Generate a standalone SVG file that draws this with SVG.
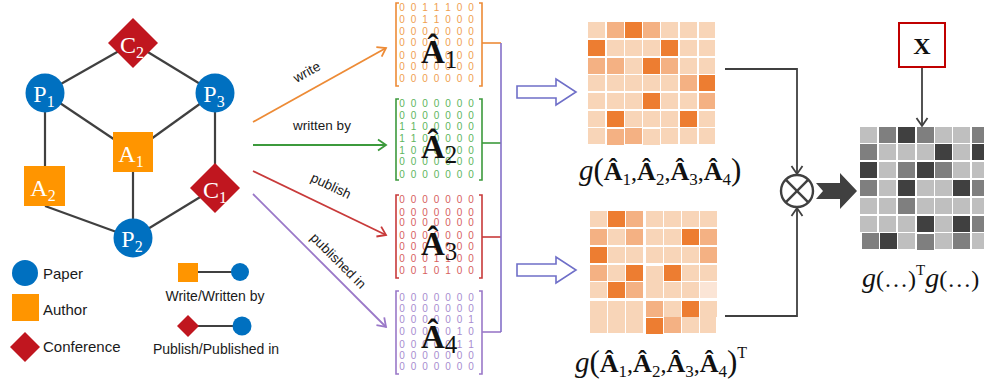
<svg xmlns="http://www.w3.org/2000/svg" width="984" height="388" viewBox="0 0 984 388">
  <style>
    .edge { stroke: #404040; stroke-width: 2.2; fill: none; }
    .paper { fill: #0070C0; }
    .author { fill: #FF9500; }
    .conf { fill: #C0161F; }
    .nlab { font-family: "Liberation Serif", "DejaVu Serif", serif; fill: #ffffff; font-size: 24px; text-anchor: middle; }
    .nsub { font-size: 16px; }
    .leg { font-family: "Liberation Sans", Arial, sans-serif; font-size: 15px; fill: #1a1a1a; }
    .leg2 { font-family: "Liberation Sans", Arial, sans-serif; font-size: 14px; fill: #1a1a1a; text-anchor: middle; }
    .elab { font-family: "Liberation Sans", Arial, sans-serif; font-size: 13.5px; fill: #1a1a1a; text-anchor: middle; }
    .dig { font-family: "Liberation Sans", Arial, sans-serif; font-size: 10px; text-anchor: middle; }
    .big { font-family: "Liberation Serif", "DejaVu Serif", serif; font-weight: bold; font-size: 33px; fill: #111; }
    .bigsub { font-weight: normal; font-size: 25px; }
    .math { font-family: "Liberation Serif", "DejaVu Serif", serif; font-size: 24px; fill: #111; }
    .hb { font-weight: bold; font-size: 26px; }
    .ms { font-size: 17px; }
    .l { fill: #F8D5B8; }
    .m { fill: #F4B183; }
    .d { fill: #ED7D31; }
    .gl { fill: #BFBFBF; }
    .gm { fill: #7F7F7F; }
    .gd { fill: #404040; }
    .hollow { fill: #ffffff; stroke: #6F6FC8; stroke-width: 1.6; }
  </style>
  <defs>
    <marker id="hOrange" markerUnits="userSpaceOnUse" markerWidth="16" markerHeight="16" refX="0" refY="0" viewBox="-10 -8 12 16" orient="auto">
      <path d="M -8 -5.5 L 0 0 L -8 5.5" fill="none" stroke="#ED8B36" stroke-width="1.8"/>
    </marker>
    <marker id="hGreen" markerUnits="userSpaceOnUse" markerWidth="16" markerHeight="16" refX="0" refY="0" viewBox="-10 -8 12 16" orient="auto">
      <path d="M -8 -5.5 L 0 0 L -8 5.5" fill="none" stroke="#3C9A3C" stroke-width="1.8"/>
    </marker>
    <marker id="hRed" markerUnits="userSpaceOnUse" markerWidth="16" markerHeight="16" refX="0" refY="0" viewBox="-10 -8 12 16" orient="auto">
      <path d="M -8 -5.5 L 0 0 L -8 5.5" fill="none" stroke="#C83A3A" stroke-width="1.8"/>
    </marker>
    <marker id="hPurple" markerUnits="userSpaceOnUse" markerWidth="16" markerHeight="16" refX="0" refY="0" viewBox="-10 -8 12 16" orient="auto">
      <path d="M -8 -5.5 L 0 0 L -8 5.5" fill="none" stroke="#9A78C8" stroke-width="1.8"/>
    </marker>
    <marker id="hGray" markerUnits="userSpaceOnUse" markerWidth="16" markerHeight="16" refX="0" refY="0" viewBox="-10 -8 12 16" orient="auto">
      <path d="M -8 -5.5 L 0 0 L -8 5.5" fill="none" stroke="#404040" stroke-width="1.8"/>
    </marker>
  </defs>
  <rect width="984" height="388" fill="#ffffff"/>

  <!-- graph edges -->
  <g id="graph-edges">
    <line class="edge" x1="133" y1="43" x2="45" y2="93"/>
    <line class="edge" x1="133" y1="43" x2="215" y2="93"/>
    <line class="edge" x1="45" y1="93" x2="133" y2="152"/>
    <line class="edge" x1="215" y1="93" x2="133" y2="152"/>
    <line class="edge" x1="45" y1="93" x2="45" y2="186"/>
    <line class="edge" x1="45" y1="206" x2="133" y2="238"/>
    <line class="edge" x1="133" y1="152" x2="133" y2="238"/>
    <line class="edge" x1="215" y1="93" x2="215" y2="188"/>
    <line class="edge" x1="215" y1="188" x2="133" y2="238"/>
  </g>

  <!-- graph nodes -->
  <g id="node-C2">
    <polygon class="conf" points="133,18 158,43 133,68 108,43"/>
    <text class="nlab" x="132" y="53">C<tspan class="nsub" dy="5">2</tspan></text>
  </g>
  <g id="node-P1">
    <circle class="paper" cx="45" cy="93" r="19.5"/>
    <text class="nlab" x="44" y="102">P<tspan class="nsub" dy="5">1</tspan></text>
  </g>
  <g id="node-P3">
    <circle class="paper" cx="215" cy="93" r="19.5"/>
    <text class="nlab" x="214" y="102">P<tspan class="nsub" dy="5">3</tspan></text>
  </g>
  <g id="node-A1">
    <rect class="author" x="113" y="132" width="40" height="40"/>
    <text class="nlab" x="131" y="162">A<tspan class="nsub" dy="5">1</tspan></text>
  </g>
  <g id="node-A2">
    <rect class="author" x="24" y="166" width="41" height="40"/>
    <text class="nlab" x="43" y="196">A<tspan class="nsub" dy="5">2</tspan></text>
  </g>
  <g id="node-C1">
    <polygon class="conf" points="215,163 240,188 215,213 190,188"/>
    <text class="nlab" x="215" y="198">C<tspan class="nsub" dy="5">1</tspan></text>
  </g>
  <g id="node-P2">
    <circle class="paper" cx="133" cy="238" r="19.5"/>
    <text class="nlab" x="132" y="247">P<tspan class="nsub" dy="5">2</tspan></text>
  </g>

  <!-- legend -->
  <g id="legend">
    <circle class="paper" cx="25" cy="273" r="13"/>
    <text class="leg" x="43" y="279">Paper</text>
    <rect class="author" x="12" y="294" width="27" height="27"/>
    <text class="leg" x="43" y="315">Author</text>
    <polygon class="conf" points="25,332 40,347 25,362 10,347"/>
    <text class="leg" x="43" y="352">Conference</text>

    <line class="edge" x1="198" y1="272" x2="236" y2="272" stroke-width="1.6"/>
    <rect class="author" x="178" y="263" width="20" height="19"/>
    <circle class="paper" cx="240" cy="272" r="9"/>
    <text class="leg2" x="215" y="301">Write/Written by</text>

    <line class="edge" x1="194" y1="326" x2="236" y2="326" stroke-width="1.6"/>
    <polygon class="conf" points="188,315 199,326 188,337 177,326"/>
    <circle class="paper" cx="242" cy="326" r="9.5"/>
    <text class="leg2" x="216" y="354">Publish/Published  in</text>
  </g>

  <!-- relation arrows -->
  <g id="relation-arrows">
    <line x1="253" y1="122" x2="386" y2="48" stroke="#ED8B36" stroke-width="1.8" marker-end="url(#hOrange)"/>
    <line x1="253" y1="145" x2="386" y2="145" stroke="#3C9A3C" stroke-width="1.8" marker-end="url(#hGreen)"/>
    <line x1="253" y1="171" x2="386" y2="235" stroke="#C83A3A" stroke-width="1.8" marker-end="url(#hRed)"/>
    <line x1="253" y1="194" x2="386" y2="327" stroke="#9A78C8" stroke-width="1.8" marker-end="url(#hPurple)"/>
    <text class="elab" transform="translate(309,76) rotate(-29)">write</text>
    <text class="elab" x="322" y="130">written by</text>
    <text class="elab" transform="translate(329,190) rotate(25.7)">publish</text>
    <text class="elab" transform="translate(335,264) rotate(45)">published in</text>
  </g>

  <!-- adjacency matrices -->
  <g id="matrix-A1" fill="#F0A050">
    <path d="M 399 3 H 396 V 86 H 399 M 479 3 H 482 V 86 H 479" fill="none" stroke="#ED8B36" stroke-width="1.6"/>
    <text class="dig" x="402 413.5 425 436.5 448 459.5 471" y="11">0011100</text>
    <text class="dig" x="402 413.5 425 436.5 448 459.5 471" y="23">0011000</text>
    <text class="dig" x="402 413.5 425 436.5 448 459.5 471" y="35">0000000</text>
    <text class="dig" x="402 413.5 425 436.5 448 459.5 471" y="46">0000000</text>
    <text class="dig" x="402 413.5 425 436.5 448 459.5 471" y="59">0000000</text>
    <text class="dig" x="402 413.5 425 436.5 448 459.5 471" y="70">0000000</text>
    <text class="dig" x="402 413.5 425 436.5 448 459.5 471" y="82">0000000</text>
    <text class="big" x="421" y="63">Â<tspan class="bigsub" dy="5">1</tspan></text>
  </g>
  <g id="matrix-A2" fill="#5DB55D">
    <path d="M 399 99 H 396 V 180 H 399 M 479 99 H 482 V 180 H 479" fill="none" stroke="#3C9A3C" stroke-width="1.6"/>
    <text class="dig" x="402 413.5 425 436.5 448 459.5 471" y="107">0000000</text>
    <text class="dig" x="402 413.5 425 436.5 448 459.5 471" y="119">0000000</text>
    <text class="dig" x="402 413.5 425 436.5 448 459.5 471" y="130">1100000</text>
    <text class="dig" x="402 413.5 425 436.5 448 459.5 471" y="142">1100000</text>
    <text class="dig" x="402 413.5 425 436.5 448 459.5 471" y="154">1000000</text>
    <text class="dig" x="402 413.5 425 436.5 448 459.5 471" y="165">0000000</text>
    <text class="dig" x="402 413.5 425 436.5 448 459.5 471" y="178">0000000</text>
    <text class="big" x="421" y="158">Â<tspan class="bigsub" dy="5">2</tspan></text>
  </g>
  <g id="matrix-A3" fill="#D76060">
    <path d="M 399 195 H 396 V 278 H 399 M 479 195 H 482 V 278 H 479" fill="none" stroke="#C83A3A" stroke-width="1.6"/>
    <text class="dig" x="402 413.5 425 436.5 448 459.5 471" y="203">0000000</text>
    <text class="dig" x="402 413.5 425 436.5 448 459.5 471" y="216">0000000</text>
    <text class="dig" x="402 413.5 425 436.5 448 459.5 471" y="226">0000000</text>
    <text class="dig" x="402 413.5 425 436.5 448 459.5 471" y="239">0000000</text>
    <text class="dig" x="402 413.5 425 436.5 448 459.5 471" y="250">0000000</text>
    <text class="dig" x="402 413.5 425 436.5 448 459.5 471" y="262">0001100</text>
    <text class="dig" x="402 413.5 425 436.5 448 459.5 471" y="274">0010100</text>
    <text class="big" x="421" y="255">Â<tspan class="bigsub" dy="5">3</tspan></text>
  </g>
  <g id="matrix-A4" fill="#A88CD0">
    <path d="M 399 291 H 396 V 374 H 399 M 479 291 H 482 V 374 H 479" fill="none" stroke="#9A78C8" stroke-width="1.6"/>
    <text class="dig" x="402 413.5 425 436.5 448 459.5 471" y="301">0000000</text>
    <text class="dig" x="402 413.5 425 436.5 448 459.5 471" y="312">0000000</text>
    <text class="dig" x="402 413.5 425 436.5 448 459.5 471" y="323">0000001</text>
    <text class="dig" x="402 413.5 425 436.5 448 459.5 471" y="335">0000010</text>
    <text class="dig" x="402 413.5 425 436.5 448 459.5 471" y="348">0000011</text>
    <text class="dig" x="402 413.5 425 436.5 448 459.5 471" y="359">0000000</text>
    <text class="dig" x="402 413.5 425 436.5 448 459.5 471" y="370">0000000</text>
    <text class="big" x="421" y="348">Â<tspan class="bigsub" dy="5">4</tspan></text>
  </g>

  <!-- matrix bus and transform arrows -->
  <g id="connectors">
    <line x1="482" y1="43" x2="501" y2="43" stroke="#ED8B36" stroke-width="1.6"/>
    <line x1="482" y1="143" x2="501" y2="143" stroke="#3C9A3C" stroke-width="1.6"/>
    <line x1="482" y1="237" x2="501" y2="237" stroke="#C83A3A" stroke-width="1.6"/>
    <line x1="482" y1="332" x2="501" y2="332" stroke="#9A78C8" stroke-width="1.6"/>
    <line x1="501" y1="43" x2="501" y2="332" stroke="#8470C8" stroke-width="1.6"/>
    <polygon class="hollow" points="517,86 556,86 556,79 576,92 556,105 556,98 517,98"/>
    <polygon class="hollow" points="517,264 556,264 556,257 576,270 556,283 556,276 517,276"/>
    <polyline points="725,69 797,69 797,174" fill="none" stroke="#404040" stroke-width="1.8" marker-end="url(#hGray)"/>
    <polyline points="725,316 797,316 797,208" fill="none" stroke="#404040" stroke-width="1.8" marker-end="url(#hGray)"/>
    <line x1="922" y1="67" x2="922" y2="126" stroke="#404040" stroke-width="1.8" marker-end="url(#hGray)"/>
    <polygon points="816,183 840,183 840,173 857,191 840,209 840,199 816,199 823,191" fill="#404040"/>
  </g>

  <!-- product operator -->
  <g id="node-times">
    <circle cx="797" cy="191" r="16" fill="#ffffff" stroke="#404040" stroke-width="2.4"/>
    <line x1="785.7" y1="179.7" x2="808.3" y2="202.3" stroke="#404040" stroke-width="2.4"/>
    <line x1="808.3" y1="179.7" x2="785.7" y2="202.3" stroke="#404040" stroke-width="2.4"/>
  </g>

  <!-- feature input -->
  <g id="node-X">
    <rect x="899" y="23" width="46" height="44" fill="#ffffff" stroke="#C00000" stroke-width="2"/>
    <text x="922" y="54" font-family="Liberation Serif, DejaVu Serif, serif" font-weight="bold" font-size="24" text-anchor="middle" fill="#111">X</text>
  </g>

  <!-- g(A1..A4) heatmap -->
  <g id="heatmap-g">
    <rect class="l" x="588" y="22" width="17" height="16"/><rect class="m" x="607" y="22" width="17" height="16"/><rect class="d" x="625" y="22" width="17" height="16"/><rect class="m" x="643" y="22" width="17" height="16"/><rect class="l" x="661" y="22" width="17" height="16"/><rect class="l" x="680" y="22" width="17" height="16"/><rect class="l" x="699" y="22" width="16" height="16"/>
    <rect class="d" x="588" y="40" width="17" height="16"/><rect class="l" x="607" y="40" width="17" height="16"/><rect class="l" x="625" y="40" width="17" height="16"/><rect class="l" x="643" y="40" width="17" height="16"/><rect class="d" x="661" y="40" width="17" height="16"/><rect class="l" x="680" y="40" width="17" height="16"/><rect class="l" x="699" y="40" width="16" height="16"/>
    <rect class="m" x="588" y="58" width="17" height="16"/><rect class="m" x="607" y="58" width="17" height="16"/><rect class="l" x="625" y="58" width="17" height="16"/><rect class="d" x="643" y="58" width="17" height="16"/><rect class="m" x="661" y="58" width="17" height="16"/><rect class="l" x="680" y="58" width="17" height="16"/><rect class="l" x="699" y="58" width="16" height="16"/>
    <rect class="l" x="588" y="75" width="17" height="16"/><rect class="l" x="607" y="75" width="17" height="16"/><rect class="l" x="625" y="75" width="17" height="16"/><rect class="l" x="643" y="75" width="17" height="16"/><rect class="l" x="661" y="75" width="17" height="16"/><rect class="m" x="680" y="75" width="17" height="16"/><rect class="d" x="699" y="75" width="16" height="16"/>
    <rect class="l" x="588" y="93" width="17" height="16"/><rect class="l" x="607" y="93" width="17" height="16"/><rect class="l" x="625" y="93" width="17" height="16"/><rect class="d" x="643" y="93" width="17" height="16"/><rect class="l" x="661" y="93" width="17" height="16"/><rect class="l" x="680" y="93" width="17" height="16"/><rect class="m" x="699" y="93" width="16" height="16"/>
    <rect class="l" x="588" y="111" width="17" height="16"/><rect class="d" x="607" y="111" width="17" height="16"/><rect class="l" x="625" y="111" width="17" height="16"/><rect class="l" x="643" y="111" width="17" height="16"/><rect class="l" x="661" y="111" width="17" height="16"/><rect class="d" x="680" y="111" width="17" height="16"/><rect class="l" x="699" y="111" width="16" height="16"/>
    <rect class="l" x="588" y="128" width="17" height="16"/><rect class="m" x="607" y="129" width="17" height="16"/><rect class="m" x="625" y="128" width="17" height="16"/><rect class="l" x="643" y="129" width="17" height="16"/><rect class="l" x="661" y="128" width="17" height="16"/><rect class="l" x="680" y="128" width="17" height="16"/><rect class="l" x="699" y="128" width="16" height="16"/>
    <text class="math" x="579" y="180"><tspan font-style="italic" font-size="29">g</tspan><tspan font-size="31">(</tspan><tspan class="hb">Â</tspan><tspan class="ms" dy="5">1</tspan><tspan dy="-5">,</tspan><tspan class="hb">Â</tspan><tspan class="ms" dy="5">2</tspan><tspan dy="-5">,</tspan><tspan class="hb">Â</tspan><tspan class="ms" dy="5">3</tspan><tspan dy="-5">,</tspan><tspan class="hb">Â</tspan><tspan class="ms" dy="5">4</tspan><tspan font-size="31" dy="-5">)</tspan></text>
  </g>

  <!-- transposed heatmap -->
  <g id="heatmap-gT">
    <rect class="l" x="590" y="211" width="17" height="16"/><rect class="d" x="608" y="211" width="17" height="16"/><rect class="m" x="626" y="211" width="17" height="16"/><rect class="l" x="646" y="211" width="17" height="16"/><rect class="l" x="664" y="211" width="17" height="16"/><rect class="l" x="682" y="211" width="17" height="16"/><rect class="l" x="700" y="211" width="17" height="16"/>
    <rect class="m" x="590" y="229" width="17" height="16"/><rect class="l" x="608" y="229" width="17" height="16"/><rect class="m" x="626" y="229" width="17" height="16"/><rect class="l" x="646" y="229" width="17" height="16"/><rect class="l" x="664" y="229" width="17" height="16"/><rect class="d" x="682" y="229" width="17" height="16"/><rect class="m" x="700" y="229" width="17" height="16"/>
    <rect class="d" x="590" y="247" width="17" height="16"/><rect class="l" x="608" y="247" width="17" height="16"/><rect class="l" x="626" y="247" width="17" height="16"/><rect class="l" x="646" y="247" width="17" height="16"/><rect class="l" x="664" y="247" width="17" height="16"/><rect class="l" x="682" y="247" width="17" height="16"/><rect class="m" x="700" y="247" width="17" height="16"/>
    <rect class="m" x="590" y="265" width="17" height="16"/><rect class="l" x="608" y="265" width="17" height="16"/><rect class="d" x="626" y="265" width="17" height="16"/><rect class="l" x="646" y="266" width="17" height="16"/><rect class="d" x="664" y="265" width="17" height="16"/><rect class="l" x="682" y="265" width="17" height="16"/><rect class="l" x="700" y="265" width="17" height="16"/>
    <rect class="l" x="590" y="282" width="17" height="16"/><rect class="d" x="608" y="282" width="17" height="16"/><rect class="m" x="626" y="282" width="17" height="16"/><rect class="l" x="646" y="282" width="17" height="16"/><rect class="l" x="664" y="282" width="17" height="16"/><rect class="l" x="682" y="282" width="17" height="16"/><rect fill="#FBE5D6" x="700" y="282" width="17" height="16"/>
    <rect class="l" x="590" y="301" width="17" height="16"/><rect class="l" x="608" y="301" width="17" height="16"/><rect class="l" x="626" y="301" width="17" height="16"/><rect class="m" x="646" y="301" width="17" height="16"/><rect class="l" x="664" y="301" width="17" height="16"/><rect class="d" x="682" y="301" width="17" height="16"/><rect class="l" x="700" y="301" width="17" height="16"/>
    <rect class="l" x="590" y="317" width="17" height="16"/><rect class="l" x="608" y="317" width="17" height="16"/><rect class="l" x="626" y="317" width="17" height="16"/><rect class="d" x="646" y="318" width="17" height="16"/><rect class="m" x="664" y="317" width="17" height="16"/><rect class="l" x="682" y="317" width="17" height="16"/><rect class="l" x="700" y="317" width="16" height="16"/>
    <text class="math" x="575" y="372"><tspan font-style="italic" font-size="29">g</tspan><tspan font-size="31">(</tspan><tspan class="hb">Â</tspan><tspan class="ms" dy="5">1</tspan><tspan dy="-5">,</tspan><tspan class="hb">Â</tspan><tspan class="ms" dy="5">2</tspan><tspan dy="-5">,</tspan><tspan class="hb">Â</tspan><tspan class="ms" dy="5">3</tspan><tspan dy="-5">,</tspan><tspan class="hb">Â</tspan><tspan class="ms" dy="5">4</tspan><tspan font-size="31" dy="-5">)</tspan><tspan font-size="16" dy="-14">T</tspan></text>
  </g>

  <!-- product heatmap -->
  <g id="heatmap-product">
    <rect class="gl" x="860" y="127" width="17" height="16"/><rect class="gm" x="879" y="127" width="17" height="16"/><rect class="gd" x="898" y="127" width="17" height="16"/><rect class="gm" x="917" y="127" width="17" height="16"/><rect class="gl" x="935" y="127" width="17" height="16"/><rect class="gl" x="953" y="127" width="17" height="16"/><rect class="gm" x="972" y="127" width="17" height="16"/>
    <rect class="gm" x="860" y="144" width="17" height="16"/><rect class="gl" x="879" y="144" width="17" height="16"/><rect class="gl" x="898" y="144" width="17" height="16"/><rect class="gl" x="917" y="144" width="17" height="16"/><rect class="gd" x="935" y="144" width="17" height="16"/><rect class="gl" x="953" y="144" width="17" height="16"/><rect class="gd" x="972" y="144" width="17" height="16"/>
    <rect class="gd" x="860" y="162" width="17" height="16"/><rect class="gl" x="879" y="162" width="17" height="16"/><rect class="gm" x="898" y="162" width="17" height="16"/><rect class="gd" x="917" y="162" width="17" height="16"/><rect class="gm" x="935" y="162" width="17" height="16"/><rect class="gl" x="953" y="162" width="17" height="16"/><rect class="gl" x="972" y="162" width="17" height="16"/>
    <rect class="gm" x="860" y="180" width="17" height="16"/><rect class="gl" x="879" y="180" width="17" height="16"/><rect class="gd" x="898" y="180" width="17" height="16"/><rect class="gl" x="917" y="180" width="17" height="16"/><rect class="gl" x="935" y="180" width="17" height="16"/><rect class="gd" x="953" y="180" width="17" height="16"/><rect class="gm" x="972" y="180" width="17" height="16"/>
    <rect class="gl" x="860" y="198" width="17" height="16"/><rect class="gl" x="879" y="198" width="17" height="16"/><rect class="gm" x="898" y="198" width="17" height="16"/><rect class="gl" x="917" y="198" width="17" height="16"/><rect class="gl" x="935" y="198" width="17" height="16"/><rect class="gl" x="953" y="198" width="17" height="16"/><rect class="gl" x="972" y="198" width="17" height="16"/>
    <rect class="gl" x="860" y="216" width="17" height="16"/><rect class="gl" x="879" y="216" width="17" height="16"/><rect class="gl" x="898" y="216" width="17" height="16"/><rect class="gd" x="917" y="216" width="17" height="16"/><rect class="gl" x="935" y="216" width="17" height="16"/><rect class="gd" x="953" y="216" width="17" height="16"/><rect class="gm" x="972" y="216" width="17" height="16"/>
    <rect class="gm" x="862" y="233" width="17" height="16"/><rect class="gd" x="880" y="233" width="17" height="16"/><rect class="gl" x="898" y="233" width="17" height="16"/><rect class="gm" x="917" y="234" width="17" height="16"/><rect class="gl" x="935" y="233" width="17" height="16"/><rect class="gm" x="953" y="233" width="17" height="16"/><rect class="gl" x="972" y="233" width="17" height="16"/>
    <text class="math" x="862" y="287"><tspan font-style="italic" font-size="28">g</tspan><tspan>(…)</tspan><tspan font-size="15" dy="-12">T</tspan><tspan font-style="italic" font-size="28" dy="12">g</tspan><tspan>(…)</tspan></text>
  </g>
</svg>
